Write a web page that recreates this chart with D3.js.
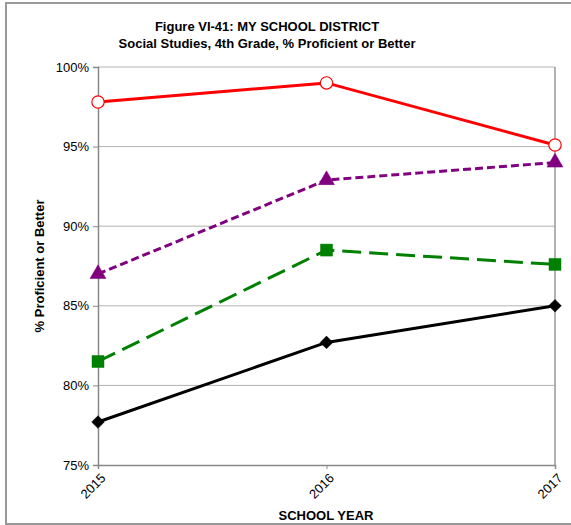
<!DOCTYPE html>
<html><head><meta charset="utf-8">
<script src="https://cdn.jsdelivr.net/npm/d3@7"></script>
<style>body{margin:0;background:#fff}svg{display:block}text{font-family:Arial,"Liberation Sans",sans-serif}</style>
</head><body>
<svg id="c" width="571" height="525"></svg>
<script>
const years = ["2015","2016","2017"];
const redValues = [97.8, 99.0, 95.1];
const purpleValues = [87.0, 92.9, 94.0];
const greenValues = [81.5, 88.5, 87.6];
const blackValues = [77.7, 82.7, 85.0];
const yTicks = [75, 80, 85, 90, 95, 100];
const titleLines = ["Figure VI-41: MY SCHOOL DISTRICT", "Social Studies, 4th Grade, % Proficient or Better"];

const series = [
  {values: redValues, color: "#ff0000", dash: null, marker: "circle"},
  {values: purpleValues, color: "#800080", dash: "8,4", marker: "triangle"},
  {values: greenValues, color: "#008000", dash: "19,8", marker: "square"},
  {values: blackValues, color: "#000000", dash: null, marker: "diamond"}
];

const svg = d3.select("#c");
const L = 98, R = 555, T = 67, B = 465;
const FONT = "Arial, 'Liberation Sans', sans-serif";

svg.append("rect").attr("x",6).attr("y",3).attr("width",600).attr("height",521)
  .attr("fill","none").attr("stroke","#999").attr("stroke-width",2);

const x = d3.scalePoint().domain(years).range([L, R]);
const y = d3.scaleLinear().domain([75, 100]).range([B, T]);

// gridlines
svg.append("g").selectAll("line").data(yTicks.filter(d => d > 75)).join("line")
  .attr("x1", L).attr("x2", R).attr("y1", d => y(d)).attr("y2", d => y(d))
  .attr("stroke", "#b3b3b3").attr("stroke-width", 1);

// plot frame right side
svg.append("line").attr("x1",R).attr("x2",R).attr("y1",T).attr("y2",B).attr("stroke","#999").attr("stroke-width",1.5);

// y axis
const yAxis = svg.append("g").attr("transform",`translate(${L},0)`)
  .call(d3.axisLeft(y).tickValues(yTicks).tickFormat(d => d + "%").tickSize(5).tickPadding(4));
yAxis.select(".domain").attr("stroke","#888").attr("stroke-width",1.5);
yAxis.selectAll(".tick line").attr("stroke","#888");
yAxis.selectAll("text").attr("font-size",13).attr("fill","#000").style("font-family",FONT);

// x axis
const xAxis = svg.append("g").attr("transform",`translate(0,${B})`)
  .call(d3.axisBottom(x).tickSize(4).tickPadding(3));
xAxis.select(".domain").attr("stroke","#888").attr("stroke-width",1.5);
xAxis.selectAll(".tick line").attr("stroke","#888");
xAxis.selectAll("text").attr("font-size",13).attr("fill","#000")
  .style("font-family",FONT)
  .attr("text-anchor","end").attr("dy",0).attr("dx",0)
  .attr("transform","translate(3,9) rotate(-45)");

// lines
const line = d3.line().x((d,i) => x(years[i])).y(d => y(d));
series.forEach(s => {
  svg.append("path").datum(s.values).attr("d", line).attr("fill","none")
    .attr("stroke", s.color).attr("stroke-width", 3)
    .attr("stroke-dasharray", s.dash);
});

// markers
const symMap = {circle: d3.symbolCircle, triangle: d3.symbolTriangle, square: d3.symbolSquare, diamond: d3.symbolSquare};
const sizeMap = {circle: 120, triangle: 110, square: 144, diamond: 80};
series.forEach(s => {
  svg.append("g").selectAll("path").data(s.values).join("path")
    .attr("transform", (d,i) => `translate(${x(years[i])},${y(d)})` + (s.marker === "diamond" ? " rotate(45)" : ""))
    .attr("d", d3.symbol().type(symMap[s.marker]).size(sizeMap[s.marker]))
    .attr("fill", s.marker === "circle" ? "#fff" : s.color)
    .attr("stroke", s.color).attr("stroke-width", s.marker === "circle" ? 1.2 : 0.5);
});

// titles
svg.append("g").selectAll("text").data(titleLines).join("text")
  .attr("x", 267).attr("y", (d,i) => 31 + i*17).attr("text-anchor","middle")
  .attr("font-size",13).attr("font-weight","bold").text(d => d);

svg.append("text").attr("x", 326).attr("y", 520).attr("text-anchor","middle")
  .attr("font-size",13).attr("font-weight","bold").text("SCHOOL YEAR");

svg.append("text").attr("transform","translate(44,266) rotate(-90)").attr("text-anchor","middle")
  .attr("font-size",13).attr("font-weight","bold").text("% Proficient or Better");
</script>
</body></html>
